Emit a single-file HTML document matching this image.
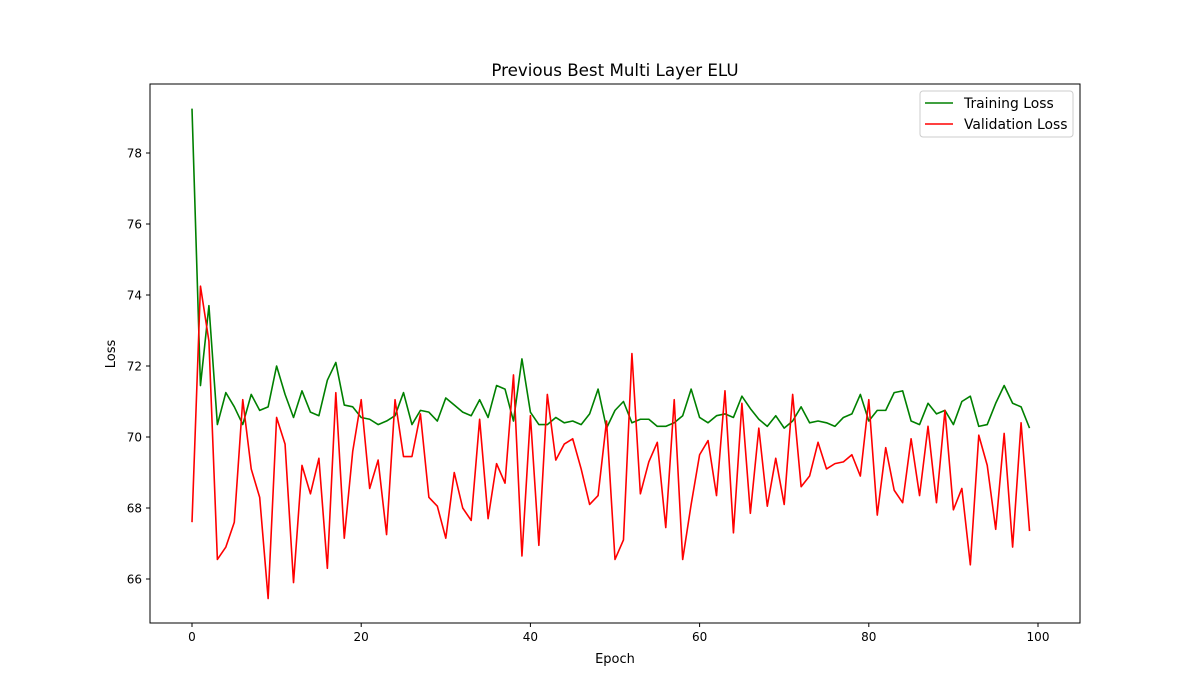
<!DOCTYPE html>
<html><head><meta charset="utf-8"><style>
body{margin:0;background:#fff}
svg{display:block;font-family:"DejaVu Sans","Liberation Sans",sans-serif}
</style></head><body>
<svg id="chart" width="1200" height="700"></svg>
<script>
const trainLoss=[79.25,71.45,73.7,70.35,71.25,70.85,70.35,71.2,70.75,70.85,72.0,71.2,70.55,71.3,70.7,70.6,71.6,72.1,70.9,70.85,70.55,70.5,70.35,70.45,70.6,71.25,70.35,70.75,70.7,70.45,71.1,70.9,70.7,70.6,71.05,70.55,71.45,71.35,70.45,72.2,70.7,70.35,70.35,70.55,70.4,70.45,70.35,70.65,71.35,70.25,70.75,71.0,70.4,70.5,70.5,70.3,70.3,70.4,70.6,71.35,70.55,70.4,70.6,70.65,70.55,71.15,70.8,70.5,70.3,70.6,70.25,70.45,70.85,70.4,70.45,70.4,70.3,70.55,70.65,71.2,70.45,70.75,70.75,71.25,71.3,70.45,70.35,70.95,70.65,70.75,70.35,71.0,71.15,70.3,70.35,70.95,71.45,70.95,70.85,70.25];
const valLoss=[67.6,74.25,72.7,66.55,66.9,67.6,71.05,69.1,68.3,65.45,70.55,69.8,65.9,69.2,68.4,69.4,66.3,71.25,67.15,69.6,71.05,68.55,69.35,67.25,71.05,69.45,69.45,70.65,68.3,68.05,67.15,69.0,68.0,67.65,70.5,67.7,69.25,68.7,71.75,66.65,70.6,66.95,71.2,69.35,69.8,69.95,69.1,68.1,68.35,70.45,66.55,67.1,72.35,68.4,69.3,69.85,67.45,71.05,66.55,68.1,69.5,69.9,68.35,71.3,67.3,70.95,67.85,70.25,68.05,69.4,68.1,71.2,68.6,68.9,69.85,69.1,69.25,69.3,69.5,68.9,71.05,67.8,69.7,68.5,68.15,69.95,68.35,70.3,68.15,70.75,67.95,68.55,66.4,70.05,69.2,67.4,70.1,66.9,70.4,67.35];
const xTicks=[0,20,40,60,80,100];
const yTicks=[66,68,70,72,74,76,78];

const L=150,R=1080,T=84,B=623;
const xs=v=>192+(v-0)*(1038-192)/100;
const ys=v=>437-(v-70)*35.5;
const svg=document.getElementById('chart');
const NS='http://www.w3.org/2000/svg';
function mk(tag,attrs,parent){const e=document.createElementNS(NS,tag);for(const k in attrs)e.setAttribute(k,attrs[k]);(parent||svg).appendChild(e);return e;}

const frame=mk('rect',{x:L,y:T,width:R-L,height:B-T,fill:'none',stroke:'#000','stroke-width':1});



xTicks.forEach(t=>{
  const g=mk('g',{});
  
  
  mk('line',{x1:xs(t),x2:xs(t),y1:B,y2:B+4,stroke:'#000'},g);
  const tx=mk('text',{x:xs(t),y:B+18,'text-anchor':'middle','font-size':12},g);tx.textContent=t;
});
yTicks.forEach(t=>{
  const g=mk('g',{});
  
  
  mk('line',{x1:L-4,x2:L,y1:ys(t),y2:ys(t),stroke:'#000'},g);
  const tx=mk('text',{x:L-8,y:ys(t)+4.5,'text-anchor':'end','font-size':12},g);tx.textContent=t;
});

function line(data,color,name){
  const p=mk('polyline',{points:data.map((v,i)=>xs(i)+','+ys(v)).join(' '),fill:'none',stroke:color,'stroke-width':1.6,'stroke-linejoin':'round'});
  
  
}
line(trainLoss,'#008000','training-loss-line');
line(valLoss,'#ff0000','validation-loss-line');

const title=mk('text',{x:615,y:76,'text-anchor':'middle','font-size':16.7});title.textContent='Previous Best Multi Layer ELU';


const xl=mk('text',{x:615,y:663,'text-anchor':'middle','font-size':13});xl.textContent='Epoch';


const yl=mk('text',{x:115,y:354,'text-anchor':'middle','font-size':13,transform:'rotate(-90 115 354)'});yl.textContent='Loss';



const lg=mk('g',{});


mk('rect',{x:920,y:91,width:153,height:46,rx:3,fill:'#fff',stroke:'#ccc'},lg);
[['Training Loss','#008000',103],['Validation Loss','#ff0000',124]].forEach(([n,c,y])=>{
  const e=mk('g',{},lg);
  
  
  mk('line',{x1:925,x2:953,y1:y,y2:y,stroke:c,'stroke-width':1.6},e);
  const t=mk('text',{x:964,y:y+5,'font-size':13.9},e);t.textContent=n;
});
</script>
</body></html>
